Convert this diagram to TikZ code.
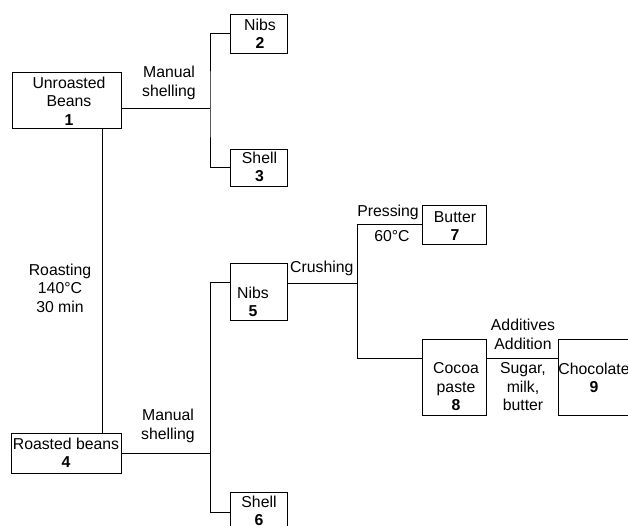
\documentclass[tikz,border=0pt]{standalone}
\usepackage{fontspec}
\setmainfont{Liberation Sans}
\begin{document}
\begin{tikzpicture}[x=1pt,y=-1pt,
  boxn/.style={draw,line width=0.9pt,inner sep=0pt,minimum width=#1},
  txt/.style={inner sep=0pt,align=center,font=\fontsize{15.8}{18.5}\selectfont},
  conn/.style={line width=0.9pt}]
\useasboundingbox (0,0) rectangle (628,526);
\clip (0,0) rectangle (628,526);
% boxes
\node[boxn=109pt,minimum height=56pt] (b1) at (66.5,100) {};
\node[boxn=57pt,minimum height=39pt] (b2) at (258.5,33.5) {};
\node[boxn=57pt,minimum height=37pt] (b3) at (258.5,167.5) {};
\node[boxn=110pt,minimum height=40pt] (b4) at (66,453) {};
\node[boxn=57pt,minimum height=57pt] (b5) at (258.5,291.5) {};
\node[boxn=57pt,minimum height=48pt] (b6) at (258.5,516) {};
\node[boxn=64pt,minimum height=39pt] (b7) at (454,224.5) {};
\node[boxn=64pt,minimum height=76pt] (b8) at (454,377) {};
\node[boxn=82pt,minimum height=76pt] (b9) at (599,377) {};
% box texts
\node[txt] (t1) at (69,101) {Unroasted\\Beans\\\textbf{1}};
\node[txt] (t2) at (260,34) {Nibs\\\textbf{2}};
\node[txt] (t3) at (259.5,167) {Shell\\\textbf{3}};
\node[txt] (t4) at (66,453) {Roasted beans\\\textbf{4}};
\node[txt] (t5) at (253,302) {Nibs\\\textbf{5}};
\node[txt] (t6) at (259,511) {Shell\\\textbf{6}};
\node[txt] (t7) at (455,226) {Butter\\\textbf{7}};
\node[txt] (t8) at (456,387) {Cocoa\\paste\\\textbf{8}};
\node[txt] (t9) at (594,378) {Chocolate\\\textbf{9}};
% process labels
\node[txt] (l1) at (169,83) {Manual\\shelling};
\node[txt] (l2) at (60,288) {Roasting\\140°C\\30 min};
\node[txt] (l3) at (168,426) {Manual\\shelling};
\node[txt,anchor=west] (l4) at (290,268) {Crushing};
\node[txt] (l5) at (388,212) {Pressing};
\node[txt] (l6) at (392,236) {60°C};
\node[txt] (l7) at (523,334.5) {Additives\\Addition};
\node[txt] (l8) at (523,387) {Sugar,\\milk,\\butter};
% junction coordinates
\coordinate (j1) at (210,108);
\coordinate (r) at (102,300);
\coordinate (j2t) at (210,282);
\coordinate (j2b) at (210,512);
\coordinate (j3) at (357,283);
\coordinate (j3b) at (357,358);
% connectors
\draw[conn] (b1.east |- j1) -- (j1);
\draw[conn] (b2.west) -| (j1) |- (b3.west);
\draw[conn] (b1.south -| r) -- (b4.north -| r);
\draw[conn] (b4.east) -- (b4.east -| j2t);
\draw[conn] (b5.west |- j2t) -- (j2t) -- (j2b) -- (b6.west |- j2b);
\draw[conn] (b5.east |- j3) -- (j3);
\draw[conn] (b7.west) -| (j3b) -- (b8.west |- j3b);
\draw[conn] (b8.east |- j3b) -- (b9.west |- j3b);
\end{tikzpicture}
\end{document}
